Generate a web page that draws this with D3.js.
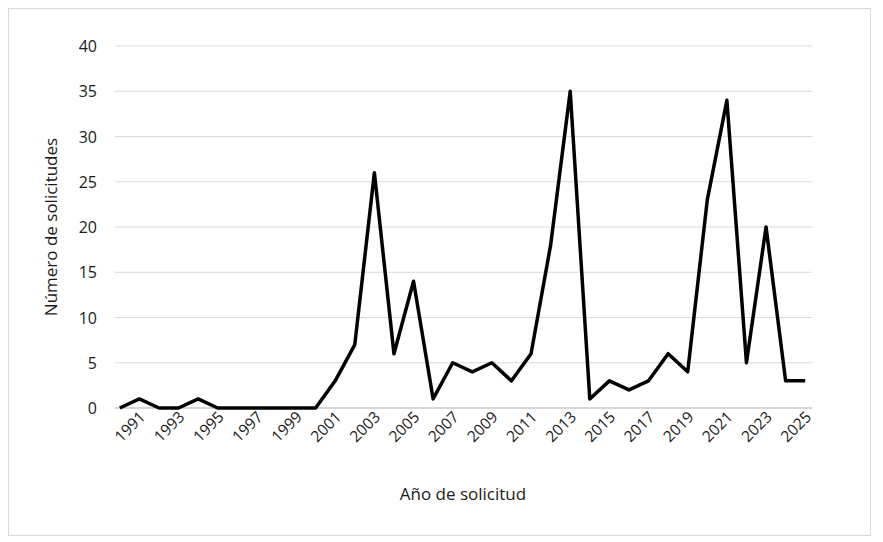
<!DOCTYPE html><html><head><meta charset="utf-8"><script src="https://cdn.jsdelivr.net/npm/d3@7"></script>
<style>body{margin:0;background:#fff}text{font-family:"Open Sans","Liberation Sans",sans-serif;fill:#1a1a1a}</style></head><body><svg id="c" width="883" height="542"></svg><script>
const years=d3.range(1990,2026);
const values=[0,1,0,0,1,0,0,0,0,0,0,3,7,26,6,14,1,5,4,5,3,6,18,35,1,3,2,3,6,4,23,34,5,20,3,3];
const yTicks=[0,5,10,15,20,25,30,35,40];
const svg=d3.select("#c");
svg.append("rect").attr("x",8.5).attr("y",8.5).attr("width",862).attr("height",527).attr("fill","#fff").attr("stroke","#d9d9d9");
const x=d3.scalePoint().domain(years).range([110,815]).padding(0.5);
const y=d3.scaleLinear().domain([0,40]).range([408,46]);
svg.append("g").selectAll("line").data(yTicks).join("line").attr("x1",115).attr("x2",812).attr("y1",d=>y(d)).attr("y2",d=>y(d)).attr("stroke","#d9d9d9");
svg.append("g").selectAll("text").data(yTicks).join("text").attr("x",97).attr("y",d=>y(d)+6).attr("text-anchor","end").style("font-size","16px").text(d=>d);
svg.append("line").attr("x1",115).attr("x2",812).attr("y1",408).attr("y2",408).attr("stroke","#bfbfbf");
svg.append("g").selectAll("text").data(years.filter(d=>d%2==1)).join("text").attr("transform",d=>`translate(${x(d)+7},${418}) rotate(-45)`).attr("text-anchor","end").style("font-size","15.5px").text(d=>d);
svg.append("path").datum(values).attr("fill","none").attr("stroke","#000").attr("stroke-width",3.5).attr("stroke-linejoin","round")
 .attr("d",d3.line().x((d,i)=>x(years[i])).y(d=>y(d)));
svg.append("text").attr("x",463).attr("y",500).attr("text-anchor","middle").style("font-size","17px").text("Año de solicitud");
svg.append("text").attr("transform","translate(57,227) rotate(-90)").attr("text-anchor","middle").style("font-size","17px").text("Número de solicitudes");
</script></body></html>
